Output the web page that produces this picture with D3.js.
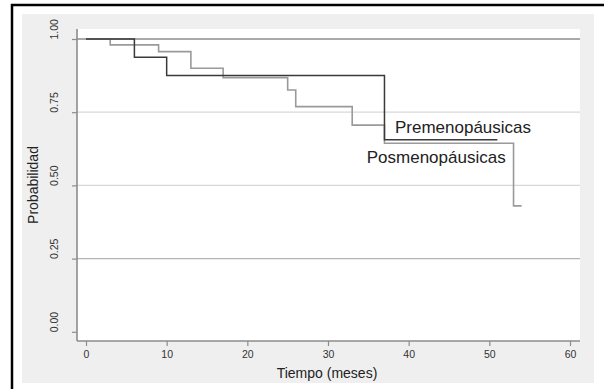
<!DOCTYPE html>
<html>
<head>
<meta charset="utf-8">
<script src="https://cdn.jsdelivr.net/npm/d3@7"></script>
<style>
  body { margin: 0; background: #fff; }
  svg { display: block; font-family: "Liberation Sans", Arial, sans-serif; }
</style>
</head>
<body>
<svg id="chart" width="604" height="389"></svg>
<script>
// Kaplan-Meier step curves
const darkTimes = [0, 6, 10, 37, 51];
const darkSurv = [1, 0.9375, 0.875, 0.656, 0.656];
const lightTimes = [0, 3, 9, 13, 17, 25, 26, 33, 37, 53, 54];
const lightSurv = [1, 0.98, 0.957, 0.90, 0.868, 0.826, 0.769, 0.706, 0.644, 0.43, 0.43];

const xTicks = [0, 10, 20, 30, 40, 50, 60];
const yTicks = [0, 0.25, 0.5, 0.75, 1];
const labels = [
    { text: "Premenopáusicas", t: 38.3, p: 0.678 },
    { text: "Posmenopáusicas", t: 34.8, p: 0.578 }
];

const svg = d3.select("#chart");

// outer frame and grey panel
svg.append("rect")
    .attr("x", 12).attr("y", 5)
    .attr("width", 640).attr("height", 420)
    .attr("fill", "none")
    .attr("stroke", "#000")
    .attr("stroke-width", 2.5);

svg.append("rect")
    .attr("x", 22).attr("y", 14)
    .attr("width", 572).attr("height", 369)
    .attr("fill", "#efefef");

const plot = { left: 77, right: 580, top: 29, bottom: 341 };

svg.append("rect")
    .attr("x", plot.left).attr("y", plot.top)
    .attr("width", plot.right - plot.left)
    .attr("height", plot.bottom - plot.top)
    .attr("fill", "#fff");

const x = d3.scaleLinear().domain([0, 60]).range([86, 570]);
const y = d3.scaleLinear().domain([0, 1]).range([331.8, 39]);

// horizontal grid
svg.append("g")
    .selectAll("line")
    .data(yTicks.filter(d => d > 0))
    .join("line")
    .attr("x1", plot.left).attr("x2", plot.right)
    .attr("y1", d => y(d)).attr("y2", d => y(d))
    .attr("stroke", d => d === 1 ? "#8c8c8c" : d === 0.25 ? "#b4b4b4" : "#d8d8d8")
    .attr("stroke-width", d => d === 1 ? 1.6 : 1.2);

// axes
const yAxis = svg.append("g")
    .attr("transform", `translate(${plot.left},0)`)
    .call(d3.axisLeft(y).tickValues(yTicks).tickSize(5).tickFormat(d3.format(".2f")));
yAxis.select(".domain")
    .attr("d", `M0,${plot.top}V${plot.bottom}`);
// Stata style: vertical labels that start at the tick and run upward
yAxis.selectAll("text")
    .attr("transform", "translate(-19,0) rotate(-90)")
    .attr("x", 0).attr("y", 0).attr("dy", 0)
    .attr("text-anchor", "start");

const xAxis = svg.append("g")
    .attr("transform", `translate(0,${plot.bottom})`)
    .call(d3.axisBottom(x).tickValues(xTicks).tickSize(5).tickFormat(d3.format("d")));
xAxis.select(".domain")
    .attr("d", `M${plot.left},0H${plot.right}`);
xAxis.selectAll("text").attr("y", 10).attr("dy", "0.71em");

[yAxis, xAxis].forEach(a => {
    a.select(".domain").attr("stroke", "#8c8c8c").attr("stroke-width", 1.6);
    a.selectAll(".tick line").attr("stroke", "#8c8c8c").attr("stroke-width", 1.2);
    a.selectAll("text")
        .attr("fill", "#333")
        .attr("font-size", "10.5px")
        .attr("font-family", "Liberation Sans, Arial, sans-serif");
});

// axis titles
svg.append("text")
    .attr("transform", `translate(37.5,${(plot.top + plot.bottom) / 2}) rotate(-90)`)
    .attr("text-anchor", "middle")
    .attr("font-size", "14px")
    .attr("fill", "#222")
    .text("Probabilidad");

svg.append("text")
    .attr("x", 327).attr("y", 378)
    .attr("text-anchor", "middle")
    .attr("font-size", "14px")
    .attr("fill", "#222")
    .text("Tiempo (meses)");

// step curves
const step = d3.line()
    .x(d => x(d[0]))
    .y(d => y(d[1]))
    .curve(d3.curveStepAfter);

svg.append("path")
    .datum(d3.zip(lightTimes, lightSurv))
    .attr("d", step)
    .attr("fill", "none")
    .attr("stroke", "#9a9a9a")
    .attr("stroke-width", 1.6);

svg.append("path")
    .datum(d3.zip(darkTimes, darkSurv))
    .attr("d", step)
    .attr("fill", "none")
    .attr("stroke", "#3a3a3a")
    .attr("stroke-width", 1.5);

// curve labels
svg.append("g")
    .selectAll("text")
    .data(labels)
    .join("text")
    .attr("x", d => x(d.t))
    .attr("y", d => y(d.p))
    .attr("font-size", "17px")
    .attr("fill", "#222")
    .text(d => d.text);
</script>
</body>
</html>
